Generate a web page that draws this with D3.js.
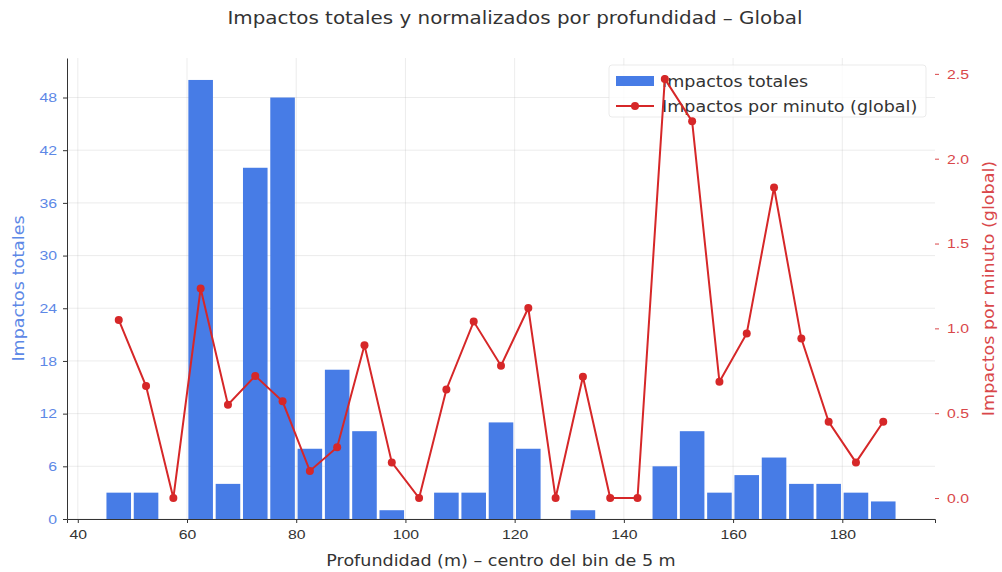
<!DOCTYPE html>
<html><head><meta charset="utf-8">
<script src="https://cdn.jsdelivr.net/npm/d3@7"></script>
<style>
html,body{margin:0;padding:0;background:#fff;}
svg{display:block;font-family:"DejaVu Sans",sans-serif;}
</style></head>
<body><svg id="c" width="1002" height="572"></svg>
<script>
const depthBins = [47.5,52.5,57.5,62.5,67.5,72.5,77.5,82.5,87.5,92.5,97.5,102.5,107.5,112.5,117.5,122.5,127.5,132.5,137.5,142.5,147.5,152.5,157.5,162.5,167.5,172.5,177.5,182.5,187.5];
const totalImpacts = [3,3,0,50,4,40,48,8,17,10,1,0,3,3,11,8,0,1,0,0,6,10,3,5,7,4,4,3,2];
const impactsPerMinute = [1.05,0.66,0,1.235,0.55,0.72,0.57,0.16,0.30,0.90,0.21,0,0.64,1.04,0.78,1.12,0,0.715,0,0,2.47,2.22,0.685,0.97,1.83,0.94,0.45,0.21,0.45];
const xTicks = [40,60,80,100,120,140,160,180];
const yLeftTicks = [0,6,12,18,24,30,36,42,48];
const yRightTicks = [0,0.5,1.0,1.5,2.0,2.5];
const title = "Impactos totales y normalizados por profundidad – Global";
const xLabel = "Profundidad (m) – centro del bin de 5 m";
const yLeftLabel = "Impactos totales";
const yRightLabel = "Impactos por minuto (global)";
const legendLabels = ["Impactos totales","Impactos por minuto (global)"];

const barColor = "#477ce6", lineColor = "#d62728";
const leftTickColor = "#5d88e6", rightTickColor = "#d9474a";
const L = 67, R = 935, T = 58, B = 519;
const binW = 5, barFrac = 0.9;
const SX = 1.17; // horizontal text stretch

const svg = d3.select("#c");
const x = d3.scaleLinear().domain([45 + binW*(1-barFrac)/2 - 0.05*(145 - binW*(1-barFrac)), 190 - binW*(1-barFrac)/2 + 0.05*(145 - binW*(1-barFrac))]).range([L, R]);
const yL = d3.scaleLinear().domain([0, 52.5]).range([B, T]);
const maxR = d3.max(impactsPerMinute);
const yR = d3.scaleLinear().domain([-0.05*maxR, 1.05*maxR]).range([B, T]);

function stretch(sel) {
  sel.each(function() {
    const t = d3.select(this);
    const x0 = +t.attr("x") || 0;
    t.attr("x", 0).attr("transform", `translate(${x0},0) scale(${SX},1)`);
  });
}

// grid
const grid = svg.append("g");
xTicks.forEach(t => grid.append("line").attr("x1", x(t)).attr("x2", x(t)).attr("y1", T).attr("y2", B)
  .attr("stroke", "#b0b0b0").attr("stroke-opacity", 0.3).attr("stroke-width", 0.8));
yLeftTicks.forEach(t => grid.append("line").attr("x1", L).attr("x2", R).attr("y1", yL(t)).attr("y2", yL(t))
  .attr("stroke", "#b0b0b0").attr("stroke-opacity", 0.3).attr("stroke-width", 0.8));

// bars
svg.append("g").selectAll("rect").data(depthBins).join("rect")
  .attr("x", (d) => x(d - binW*barFrac/2))
  .attr("width", (d) => x(d + binW*barFrac/2) - x(d - binW*barFrac/2))
  .attr("y", (d,i) => yL(totalImpacts[i]))
  .attr("height", (d,i) => yL(0) - yL(totalImpacts[i]))
  .attr("fill", barColor);

// axes
const xAxis = svg.append("g").attr("transform", `translate(0,${B})`)
  .call(d3.axisBottom(x).tickValues(xTicks).tickFormat(d3.format("d")).tickSize(4).tickPadding(6));
xAxis.select(".domain").attr("stroke", "#333").attr("stroke-width", 1);
xAxis.selectAll(".tick line").attr("stroke", "#333");
xAxis.selectAll("text").attr("fill", "#333").style("font-size", "13.5px").call(stretch);

const yAxisL = svg.append("g").attr("transform", `translate(${L},0)`)
  .call(d3.axisLeft(yL).tickValues(yLeftTicks).tickFormat(d3.format("d")).tickSize(4).tickPadding(6).tickSizeOuter(0));
yAxisL.select(".domain").attr("stroke", "#333").attr("stroke-width", 1);
yAxisL.selectAll(".tick line").attr("stroke", "#333");
yAxisL.selectAll("text").attr("fill", leftTickColor).style("font-size", "13.5px").call(stretch);

const yAxisR = svg.append("g").attr("transform", `translate(${R},0)`)
  .call(d3.axisRight(yR).tickValues(yRightTicks).tickFormat(d3.format(".1f")).tickSize(4).tickPadding(8).tickSizeOuter(0));
yAxisR.select(".domain").remove();
yAxisR.selectAll(".tick line").attr("stroke", rightTickColor);
yAxisR.selectAll("text").attr("fill", rightTickColor).style("font-size", "13.5px").call(stretch);

// labels
svg.append("text").attr("transform", `translate(515,24) scale(${SX},1)`).attr("text-anchor", "middle")
  .attr("fill", "#333").style("font-size", "17px").text(title);
svg.append("text").attr("transform", `translate(${(L+R)/2},566) scale(${SX},1)`).attr("text-anchor", "middle")
  .attr("fill", "#333").style("font-size", "15px").text(xLabel);
svg.append("text").attr("transform", `translate(24,${(T+B)/2}) rotate(-90) scale(${SX},1)`).attr("text-anchor", "middle")
  .attr("fill", leftTickColor).style("font-size", "15px").text(yLeftLabel);
svg.append("text").attr("transform", `translate(994,${(T+B)/2}) rotate(-90) scale(${SX},1)`).attr("text-anchor", "middle")
  .attr("fill", rightTickColor).style("font-size", "15px").text(yRightLabel);

// legend (drawn below the line)
const lg = svg.append("g");
lg.append("rect").attr("x", 609).attr("y", 65).attr("width", 317).attr("height", 52).attr("rx", 3)
  .attr("fill", "#fff").attr("fill-opacity", 0.8).attr("stroke", "#ddd").attr("stroke-opacity", 0.6);
lg.append("rect").attr("x", 616).attr("y", 76).attr("width", 38).attr("height", 10).attr("fill", barColor);
lg.append("line").attr("x1", 616).attr("x2", 654).attr("y1", 106).attr("y2", 106).attr("stroke", lineColor).attr("stroke-width", 2);
lg.append("circle").attr("cx", 635).attr("cy", 106).attr("r", 4).attr("fill", lineColor);
lg.selectAll("text.lt").data(legendLabels).join("text").attr("class", "lt")
  .attr("transform", (d,i) => `translate(662,${87 + i*25}) scale(${SX},1)`)
  .attr("fill", "#333").style("font-size", "15px").text(d => d);

// line
const pts = depthBins.map((d,i) => [d, impactsPerMinute[i]]);
svg.append("path").datum(pts)
  .attr("d", d3.line().x(d => x(d[0])).y(d => yR(d[1])))
  .attr("fill", "none").attr("stroke", lineColor).attr("stroke-width", 2);
svg.append("g").selectAll("circle").data(pts).join("circle")
  .attr("cx", d => x(d[0])).attr("cy", d => yR(d[1])).attr("r", 4).attr("fill", lineColor);
</script></body></html>
